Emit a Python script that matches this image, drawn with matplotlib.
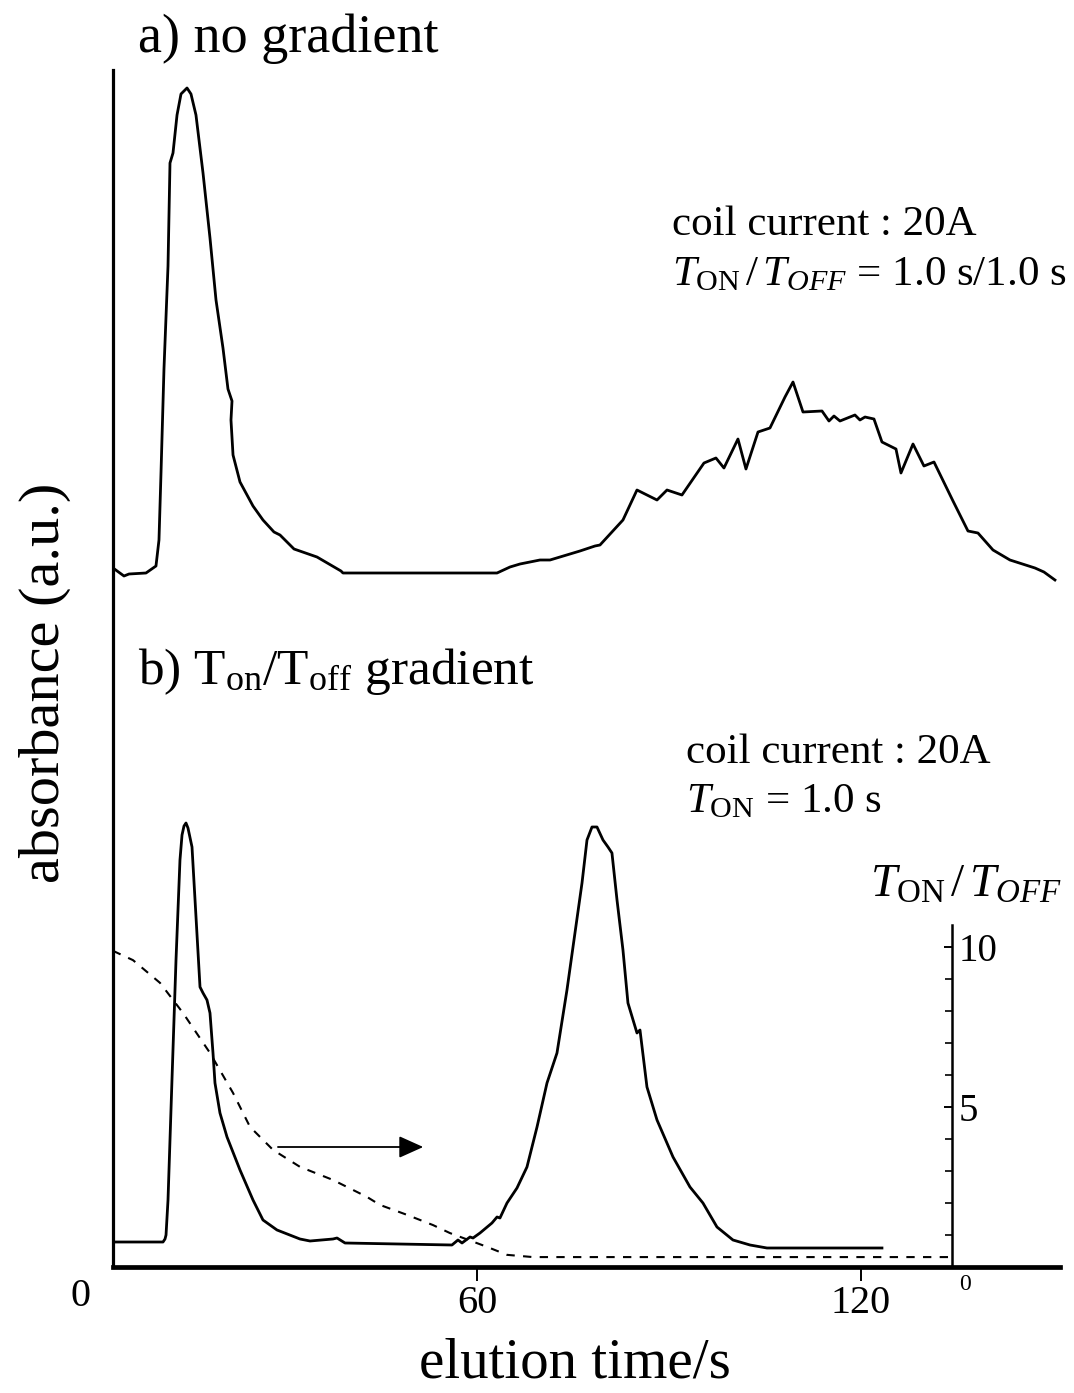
import matplotlib
matplotlib.use("Agg")
import matplotlib.pyplot as plt
from matplotlib.ticker import FixedLocator, NullFormatter

plt.rcParams['font.family'] = ['Liberation Serif', 'DejaVu Serif']
plt.rcParams['mathtext.fontset'] = 'custom'
plt.rcParams['mathtext.rm'] = 'Liberation Serif'
plt.rcParams['mathtext.it'] = 'Liberation Serif:italic'
plt.rcParams['mathtext.bf'] = 'Liberation Serif:bold'

# ---------------- data ----------------
# a) no gradient (absorbance relative to its own baseline, a.u.)
time_a = [3.13, 4.84, 5.63, 8.28, 9.84, 10.31, 10.63, 11.09, 11.72, 12.03, 12.50, 13.13,
          13.75, 14.69, 15.31, 16.09, 17.19, 18.28, 19.22, 20.31, 21.09, 21.72, 21.56,
          21.88, 22.97, 25.00, 26.56, 28.28, 29.22, 31.41, 35.00, 38.75, 39.06, 63.13,
          65.16, 66.72, 69.84, 71.41, 76.09, 78.44, 79.22, 82.81, 85.00, 88.13, 89.69,
          92.03, 95.47, 97.34, 98.59, 100.78, 102.03, 103.91, 105.78, 108.13, 109.38,
          110.94, 113.91, 115.00, 115.78, 116.72, 119.06, 119.84, 120.63, 122.03, 123.28,
          125.47, 126.25, 128.13, 129.84, 131.41, 134.38, 136.72, 138.28, 140.63, 143.28,
          147.19, 148.59, 150.31]
abs_a = [0.05, -0.03, -0.01, 0.00, 0.07, 0.33, 1.01, 2.04, 3.07, 4.10, 4.20, 4.58,
         4.79, 4.85, 4.79, 4.58, 4.00, 3.35, 2.73, 2.25, 1.84, 1.72, 1.53,
         1.18, 0.91, 0.67, 0.53, 0.41, 0.38, 0.24, 0.16, 0.02, 0.00, 0.00,
         0.06, 0.09, 0.13, 0.13, 0.22, 0.27, 0.28, 0.53, 0.83, 0.73, 0.83,
         0.78, 1.10, 1.15, 1.05, 1.34, 1.04, 1.41, 1.45, 1.76, 1.91,
         1.61, 1.62, 1.52, 1.57, 1.52, 1.58, 1.53, 1.56, 1.54, 1.31,
         1.24, 1.00, 1.29, 1.07, 1.11, 0.72, 0.42, 0.40, 0.23, 0.13,
         0.05, 0.01, -0.07]
offset_a = 6.94  # vertical stacking offset of trace a)

# b) Ton/Toff gradient (a.u.)
time_b = [3.13, 10.94, 11.25, 11.41, 11.72, 12.34, 12.97, 13.59, 13.91, 14.22, 14.53,
          14.84, 15.47, 16.72, 17.19, 17.81, 18.28, 18.75, 19.06, 19.84, 20.94, 22.97,
          25.00, 26.56, 28.75, 32.34, 33.91, 37.50, 38.13, 39.38, 56.09, 57.03, 57.66,
          58.91, 59.38, 60.47, 62.34, 63.13, 63.59, 64.69, 66.25, 67.81, 69.38, 70.94,
          72.50, 74.06, 75.31, 76.41, 77.19, 77.97, 78.75, 79.69, 80.47, 81.09, 81.88,
          82.81, 83.59, 85.00, 85.47, 86.56, 88.13, 90.63, 93.28, 95.31, 97.50, 100.00,
          102.66, 105.31, 123.28]
abs_b = [0.25, 0.25, 0.28, 0.32, 0.67, 1.87, 3.07, 4.07, 4.32, 4.41, 4.44,
         4.39, 4.20, 2.80, 2.74, 2.67, 2.54, 2.14, 1.84, 1.54, 1.30, 0.97,
         0.67, 0.47, 0.37, 0.28, 0.26, 0.28, 0.29, 0.24, 0.22, 0.27, 0.24,
         0.30, 0.29, 0.34, 0.44, 0.50, 0.49, 0.64, 0.79, 1.00, 1.40, 1.84,
         2.14, 2.77, 3.34, 3.84, 4.27, 4.40, 4.40, 4.27, 4.20, 4.14, 3.67,
         3.17, 2.64, 2.34, 2.37, 1.80, 1.47, 1.10, 0.80, 0.64, 0.40, 0.27,
         0.22, 0.19, 0.19]

# Ton/Toff gradient program (right axis)
time_ratio = [3.13, 6.25, 10.47, 14.06, 18.28, 21.88, 24.53, 28.13, 32.34, 37.50, 42.81,
              44.84, 49.06, 53.13, 55.78, 61.56, 64.69, 68.75, 134.0]
ratio = [9.88, 9.59, 8.88, 7.94, 6.69, 5.44, 4.38, 3.66, 3.13, 2.72, 2.19,
         1.94, 1.63, 1.31, 1.06, 0.63, 0.38, 0.31, 0.31]

x_ticks = [60, 120]
x_tick_labels = ['60', '120']
ratio_major = [5, 10]
ratio_minor = [1, 2, 3, 4, 6, 7, 8, 9]

# ---------------- figure ----------------
W, H = 1074, 1393
fig = plt.figure(figsize=(W / 100, H / 100), dpi=100)


def fx(px):
    return px / W


def fy(py):
    return 1 - py / H


ax = fig.add_axes([fx(113), fy(1267), fx(1060) - fx(113), fy(70) - fy(1267)])
ax.set_xlim(3.125, 151.1)
ax.set_ylim(0, 11.97)

ax.plot(time_a, [v + offset_a for v in abs_a], color='black', lw=2.0,
        solid_joinstyle='round')
ax.plot(time_b, abs_b, color='black', lw=2.0, solid_joinstyle='round')

for s in ('top', 'right'):
    ax.spines[s].set_visible(False)
ax.spines['left'].set_linewidth(2.3)
ax.spines['bottom'].set_linewidth(3.4)
ax.set_yticks([])
ax.set_xticks(x_ticks)
ax.set_xticklabels(x_tick_labels)
ax.tick_params(axis='x', direction='out', length=10, width=1.4, pad=3,
               labelsize=29)
ax.patch.set_alpha(0)

# arrow pointing to right axis
ax.annotate('', xy=(51.6, 1.20), xytext=(28.9, 1.20),
            arrowprops=dict(arrowstyle='-|>,head_length=1.0,head_width=0.45',
                            lw=1.3, color='black', mutation_scale=15,
                            shrinkA=0, shrinkB=0))

# right axis: Ton/Toff
ax2 = ax.twinx()
ax2.set_ylim(0, 37.41)
ax2.plot(time_ratio, ratio, color='black', lw=1.5, linestyle=(0, (4, 4)))
for s in ('top', 'left', 'bottom'):
    ax2.spines[s].set_visible(False)
ax2.spines['right'].set_position(('data', 134.2))
ax2.spines['right'].set_bounds(0, 10.69)
ax2.spines['right'].set_linewidth(1.8)
ax2.yaxis.set_major_locator(FixedLocator(ratio_major))
ax2.yaxis.set_minor_locator(FixedLocator(ratio_minor))
ax2.yaxis.set_minor_formatter(NullFormatter())
ax2.tick_params(axis='y', which='major', direction='in', length=6, width=1.4,
                pad=5, labelsize=28)
ax2.tick_params(axis='y', which='minor', direction='in', length=5, width=1.2)

# ---------------- texts ----------------
fig.text(fx(81), fy(1297), '0', fontsize=29, ha='center', va='center')
fig.text(fx(965), fy(1284), '0', fontsize=17, ha='center', va='center')

fig.text(fx(575), fy(1378), 'elution time/s', fontsize=41, ha='center',
         va='baseline')
fig.text(fx(45), fy(683), 'absorbance (a.u.)', fontsize=42, rotation=90,
         ha='center', va='center')

fig.text(fx(138), fy(52), 'a) no gradient', fontsize=39, va='baseline')
fig.text(fx(138), fy(684), r'b) $\mathrm{T_{on}/T_{off}}$ gradient',
         fontsize=37, va='baseline')

fig.text(fx(672), fy(235), 'coil current : 20A', fontsize=31, va='baseline')
fig.text(fx(672), fy(285), r'$T_{\mathrm{ON}}\,/\,T_{OFF}$ = 1.0 s/1.0 s',
         fontsize=31, va='baseline')
fig.text(fx(686), fy(763), 'coil current : 20A', fontsize=31, va='baseline')
fig.text(fx(686), fy(812), r'$T_{\mathrm{ON}}$ = 1.0 s', fontsize=31,
         va='baseline')
fig.text(fx(870), fy(897), r'$T_{\mathrm{ON}}\,/\,T_{OFF}$', fontsize=34,
         va='baseline')

fig.savefig('out.png', dpi=100)
